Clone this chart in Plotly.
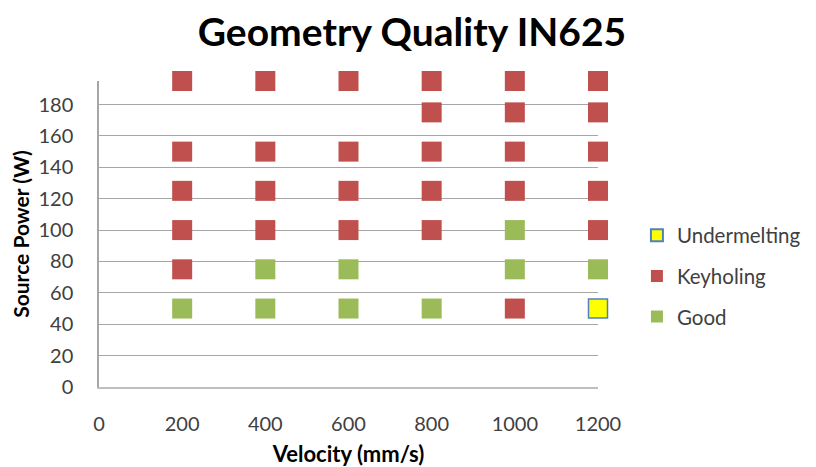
import plotly.graph_objects as go

# Velocity (mm/s) and source power (W) for each outcome
good_velocity = [200, 400, 600, 800, 400, 600, 1000, 1200, 1000]
good_power = [50, 50, 50, 50, 75, 75, 75, 75, 100]

key_velocity = [200, 400, 600, 800, 1000, 1200,
                800, 1000, 1200,
                200, 400, 600, 800, 1000, 1200,
                200, 400, 600, 800, 1000, 1200,
                200, 400, 600, 800, 1200,
                200, 1000]
key_power = [195, 195, 195, 195, 195, 195,
             175, 175, 175,
             150, 150, 150, 150, 150, 150,
             125, 125, 125, 125, 125, 125,
             100, 100, 100, 100, 100,
             75, 50]

under_velocity = [1200]
under_power = [50]

font = "Lato, 'Open Sans', sans-serif"

fig = go.Figure()

fig.add_trace(go.Scatter(
    x=under_velocity, y=under_power, mode='markers', name='Undermelting',
    legendgroup='u',
    marker=dict(symbol='square', size=19, color='#FFFF00',
                line=dict(color='#4F81BD', width=1.5)),
    cliponaxis=False
))
fig.add_trace(go.Scatter(
    x=key_velocity, y=key_power, mode='markers', name='Keyholing',
    legendgroup='k',
    marker=dict(symbol='square', size=20, color='#C0504D'),
    cliponaxis=False
))
fig.add_trace(go.Scatter(
    x=good_velocity, y=good_power, mode='markers', name='Good',
    legendgroup='g',
    marker=dict(symbol='square', size=20, color='#9BBB59'),
    cliponaxis=False
))

# the page body adds an 8px margin, so the figure is drawn 8px smaller
fig.update_layout(
    width=808, height=459,
    paper_bgcolor='white', plot_bgcolor='white',
    margin=dict(l=91, r=218, t=73, b=80, autoexpand=False),
    title=dict(text='<b>Geometry Quality IN625</b>', x=0.5, xanchor='center',
               y=0.946, yanchor='middle', automargin=False,
               font=dict(family=font, size=39, color='black')),
    font=dict(family=font, size=20, color='#404040'),
    xaxis=dict(
        range=[0, 1200], tickvals=[0, 200, 400, 600, 800, 1000, 1200],
        showgrid=False, zeroline=False, automargin=False,
        showline=True, linecolor='#BFBFBF', linewidth=1.5,
        ticks='', ticklabelstandoff=18,
        tickfont=dict(size=20, color='#404040'),
        title=dict(text='<b>Velocity (mm/s)</b>', standoff=22,
                   font=dict(size=22, color='black'))
    ),
    yaxis=dict(
        range=[0, 195], tickvals=[0, 20, 40, 60, 80, 100, 120, 140, 160, 180],
        showgrid=True, gridcolor='#A6A6A6', gridwidth=1,
        zeroline=False, automargin=False,
        showline=True, linecolor='#A6A6A6', linewidth=1.5,
        ticks='', ticklabelstandoff=20,
        tickfont=dict(size=20, color='#404040'),
        title=dict(text='<b>Source Power (W)</b>', standoff=11,
                   font=dict(size=21, color='black'))
    ),
    legend=dict(
        x=1.078, xanchor='left', y=0.363, yanchor='middle',
        traceorder='grouped', itemsizing='constant',
        font=dict(size=20.5, color='#404040'),
        tracegroupgap=11, itemwidth=30
    ),
    showlegend=True
)

fig.write_html("out.html")
